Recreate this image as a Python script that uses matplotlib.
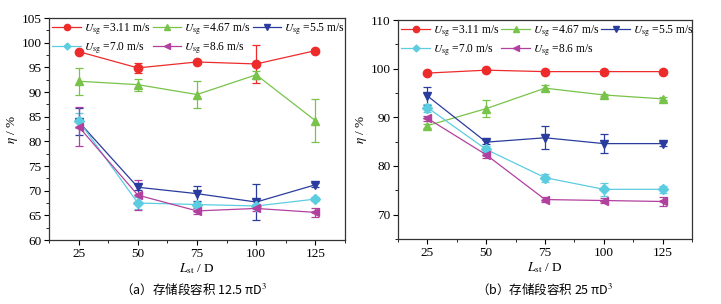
import numpy as np
import matplotlib.pyplot as plt
from matplotlib.ticker import MultipleLocator
from matplotlib.lines import Line2D

plt.rcParams['font.family'] = ['Liberation Serif', 'Noto Sans CJK SC']
plt.rcParams['mathtext.fontset'] = 'stix'

L = [25, 50, 75, 100, 125]
labels = ['3.11', '4.67', '5.5', '7.0', '8.6']

# (a) 12.5 piD^3
a_vals = [
    [98.2, 94.9, 96.1, 95.7, 98.4],
    [92.2, 91.5, 89.5, 93.5, 84.2],
    [84.0, 70.7, 69.4, 67.7, 71.2],
    [84.2, 67.5, 67.2, 66.9, 68.3],
    [83.0, 69.1, 65.9, 66.4, 65.6],
]
a_errs = [
    [0.0, 1.0, 0.0, 3.8, 0.0],
    [2.7, 1.2, 2.7, 0.8, 4.3],
    [2.7, 0.6, 1.5, 3.6, 0.4],
    [1.5, 1.3, 0.6, 0.5, 0.4],
    [4.0, 3.0, 0.6, 0.6, 0.9],
]

# (b) 25 piD^3
b_vals = [
    [99.1, 99.7, 99.4, 99.4, 99.4],
    [88.3, 91.8, 96.0, 94.6, 93.8],
    [94.4, 84.9, 85.8, 84.6, 84.6],
    [92.0, 83.4, 77.6, 75.2, 75.2],
    [89.8, 82.3, 73.1, 72.9, 72.7],
]
b_errs = [
    [0.0, 0.0, 0.0, 0.0, 0.0],
    [0.4, 1.8, 0.6, 0.3, 0.3],
    [1.8, 0.4, 2.4, 1.9, 0.4],
    [0.8, 0.8, 0.8, 1.3, 0.7],
    [0.5, 0.6, 0.6, 0.6, 1.0],
]

colors = ['#ee2b2b', '#78c34a', '#2a3c9e', '#5ccde0', '#b2409e']
markers = ['o', '^', 'v', 'D', '<']
msizes = [6, 6, 6, 5, 6]

fig = plt.figure(figsize=(7.21, 3.04), dpi=100)
ax1 = fig.add_axes([0.068, 0.2105, 0.4105, 0.730])
ax2 = fig.add_axes([0.552, 0.214, 0.408, 0.720])

def draw(ax, vals, errs, ylim, ymaj, ymin):
    handles = []
    for i in range(len(vals)):
        ax.errorbar(L, vals[i], yerr=errs[i], color=colors[i], marker=markers[i],
                    ms=msizes[i], lw=0.9, elinewidth=0.9, capsize=3, capthick=0.9)
        handles.append(Line2D([], [], color=colors[i], marker=markers[i], ms=msizes[i] - 1.5,
                              lw=0.9, label=r'$U_{\mathrm{sg}}$ =' + labels[i] + ' m/s'))
    ax.set_xlim(12.5, 137.5)
    ax.set_ylim(*ylim)
    ax.xaxis.set_major_locator(MultipleLocator(25))
    ax.xaxis.set_minor_locator(MultipleLocator(12.5))
    ax.yaxis.set_major_locator(MultipleLocator(ymaj))
    ax.yaxis.set_minor_locator(MultipleLocator(ymin))
    ax.tick_params(which='both', direction='out', labelsize=9.5, pad=2)
    ax.tick_params(which='major', length=3.5)
    ax.tick_params(which='minor', length=2)
    for s in ax.spines.values():
        s.set_color('#333333')
        s.set_linewidth(0.9)
    ax.set_xlabel(r'$L_{\mathrm{st}}$ / D', fontsize=9.5, labelpad=1)
    ax.set_ylabel(r'$\eta$ / %', fontsize=9.5, labelpad=1)
    # row-major order for a 3-column legend
    order = [0, 3, 1, 4, 2]
    ax.legend(handles=[handles[k] for k in order], loc='upper left', ncol=3,
              fontsize=8.3, handlelength=2.5, columnspacing=0.15, handletextpad=0.25,
              borderpad=0.2, labelspacing=0.3, borderaxespad=0.1, frameon=False)

draw(ax1, a_vals, a_errs, (60, 105), 5, 2.5)
draw(ax2, b_vals, b_errs, (65, 110), 10, 5)

fig.text(0.268, 0.035, '（a）存储段容积 12.5 πD$^3$', ha='center', fontsize=9,
         family=['Noto Sans CJK SC', 'DejaVu Sans'])
fig.text(0.755, 0.035, '（b）存储段容积 25 πD$^3$', ha='center', fontsize=9,
         family=['Noto Sans CJK SC', 'DejaVu Sans'])

fig.savefig('out.png', dpi=100)
